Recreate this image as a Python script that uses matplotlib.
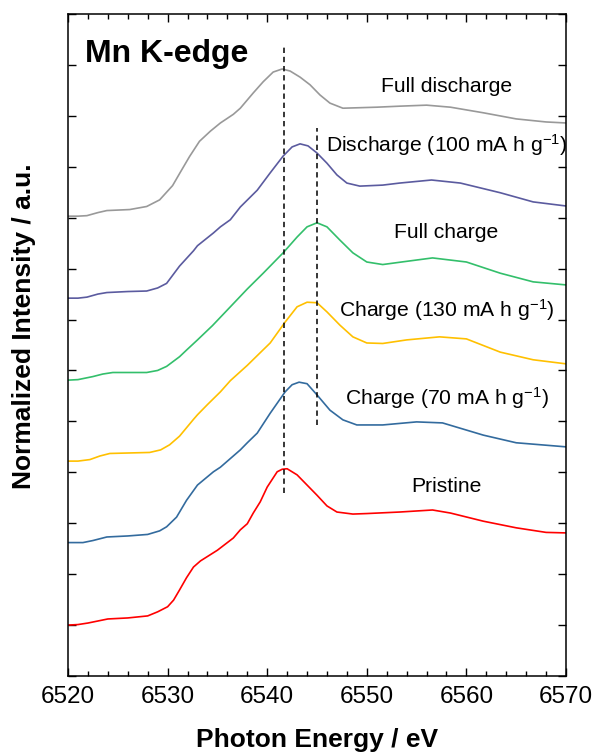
import matplotlib
matplotlib.use("Agg")
import matplotlib.pyplot as plt
from matplotlib.ticker import MultipleLocator

plt.rcParams['font.family'] = ['Liberation Sans', 'DejaVu Sans']
plt.rcParams['mathtext.fontset'] = 'custom'
plt.rcParams['mathtext.rm'] = 'Liberation Sans'
plt.rcParams['mathtext.default'] = 'regular'

# ---- data ----
e_full_dis = [6520, 6521, 6521.9, 6523, 6523.9, 6526.2, 6527.9, 6529.2, 6530.5, 6531.3, 6532.2, 6533.2,
              6534.3, 6535.3, 6536.6, 6537.3, 6538.6, 6539.6, 6540.6, 6541.5, 6542.3, 6543.3, 6544.3,
              6545.3, 6546.3, 6547.6, 6549.3, 6551, 6553.3, 6556, 6558.4, 6561.7, 6565, 6568, 6570]
i_full_dis = [9.03, 9.03, 9.04, 9.10, 9.14, 9.16, 9.22, 9.35, 9.63, 9.90, 10.20, 10.50,
              10.70, 10.86, 11.03, 11.15, 11.45, 11.67, 11.86, 11.92, 11.88, 11.76, 11.61,
              11.41, 11.25, 11.15, 11.16, 11.17, 11.19, 11.21, 11.17, 11.06, 10.94, 10.88, 10.86]

e_dis100 = [6520, 6521, 6521.9, 6523, 6523.9, 6526, 6527.9, 6529, 6529.9, 6531.2, 6532.6, 6533,
            6534.6, 6535.3, 6536.3, 6537.3, 6539, 6540.3, 6541.6, 6542.5, 6543.3, 6544.1, 6545,
            6546, 6547, 6548, 6549.3, 6551.6, 6553.3, 6556.5, 6559.4, 6563.4, 6566.7, 6570]
i_dis100 = [7.42, 7.42, 7.44, 7.50, 7.53, 7.55, 7.56, 7.62, 7.71, 8.05, 8.35, 8.45,
            8.70, 8.82, 8.96, 9.21, 9.54, 9.88, 10.21, 10.39, 10.45, 10.41, 10.27,
            10.07, 9.84, 9.68, 9.62, 9.64, 9.68, 9.74, 9.68, 9.49, 9.31, 9.23]

e_full_chg = [6520, 6521, 6522.5, 6523.5, 6524.5, 6526, 6527.9, 6529, 6529.9, 6531.2, 6531.9, 6533,
              6534.5, 6536.3, 6538, 6539.6, 6541.6, 6543, 6544, 6545, 6546, 6547.3, 6548.6, 6550,
              6551.6, 6553.5, 6556.6, 6560, 6563.4, 6566.7, 6570]
i_full_chg = [5.81, 5.82, 5.88, 5.93, 5.96, 5.96, 5.96, 6.00, 6.08, 6.27, 6.40, 6.60,
              6.88, 7.25, 7.60, 7.91, 8.31, 8.62, 8.82, 8.90, 8.82, 8.56, 8.31, 8.13,
              8.08, 8.13, 8.21, 8.13, 7.91, 7.74, 7.68]

e_chg130 = [6520, 6521, 6522.2, 6523.2, 6524.2, 6526.2, 6528.2, 6529.3, 6530.2, 6531.2, 6532.6, 6533,
            6534, 6535.3, 6536.3, 6538, 6539.2, 6540.3, 6541.8, 6543, 6544, 6545, 6546, 6547.3,
            6548.6, 6550, 6551.6, 6554, 6557.3, 6560, 6563.4, 6566.7, 6570]
i_chg130 = [4.22, 4.22, 4.25, 4.32, 4.37, 4.38, 4.39, 4.44, 4.54, 4.71, 5.04, 5.13,
            5.33, 5.58, 5.80, 6.10, 6.33, 6.54, 6.95, 7.25, 7.34, 7.33, 7.15, 6.89,
            6.66, 6.54, 6.53, 6.60, 6.66, 6.62, 6.36, 6.21, 6.13]

e_chg70 = [6520, 6521.5, 6522.5, 6523.9, 6526, 6528, 6529.2, 6529.9, 6530.9, 6531.9, 6533, 6534.6,
           6535.3, 6537.3, 6538, 6539, 6540.3, 6541.8, 6542.5, 6543.2, 6544, 6545, 6546.3, 6547.6,
           6549, 6551.6, 6555, 6557.6, 6561.7, 6565, 6570]
i_chg70 = [2.62, 2.62, 2.66, 2.73, 2.75, 2.78, 2.85, 2.93, 3.12, 3.45, 3.75, 4.01,
           4.10, 4.44, 4.58, 4.77, 5.16, 5.58, 5.72, 5.77, 5.74, 5.52, 5.22, 5.03,
           4.93, 4.93, 4.99, 4.97, 4.73, 4.58, 4.50]

e_pristine = [6520, 6521, 6522, 6523, 6524, 6526, 6528, 6529, 6530, 6530.6, 6531.2, 6531.9, 6532.6,
              6533.3, 6535, 6536.6, 6537.3, 6538, 6538.6, 6539.3, 6540, 6541, 6541.5, 6542, 6543,
              6544, 6545, 6546, 6547, 6548.6, 6550, 6553.3, 6556.6, 6558.4, 6561.7, 6565, 6568, 6570]
i_pristine = [1.00, 1.01, 1.04, 1.08, 1.12, 1.14, 1.18, 1.26, 1.36, 1.49, 1.69, 1.93, 2.14,
              2.26, 2.47, 2.71, 2.87, 2.99, 3.20, 3.42, 3.71, 4.01, 4.06, 4.07, 3.95,
              3.75, 3.55, 3.34, 3.22, 3.18, 3.19, 3.22, 3.26, 3.20, 3.04, 2.91, 2.82, 2.81]

labels = ["Full discharge", "Discharge (100 mA h g$^{-1}$)", "Full charge",
          "Charge (130 mA h g$^{-1}$)", "Charge (70 mA h g$^{-1}$)", "Pristine"]
label_y = [11.47, 10.29, 8.60, 7.05, 5.32, 3.61]
label_x = 6558
colors = ["#999999", "#5B5B9F", "#33BF6B", "#FFC000", "#336B9E", "#FF0000"]

dash_x = [6541.7, 6545.05]
dash_ymin = [3.59, 4.93]
dash_ymax = [12.35, 10.76]

energies = [e_full_dis, e_dis100, e_full_chg, e_chg130, e_chg70, e_pristine]
intens = [i_full_dis, i_dis100, i_full_chg, i_chg130, i_chg70, i_pristine]

# ---- figure ----
fig = plt.figure(figsize=(5.93, 7.52), dpi=100)
ax = fig.add_axes([68/593, 76/752, (566-68)/593, (676-14)/752])

for e, i, c in zip(energies, intens, colors):
    ax.plot(e, i, color=c, lw=1.2, solid_joinstyle="round")

for x, y0, y1 in zip(dash_x, dash_ymin, dash_ymax):
    ax.plot([x, x], [y0, y1], color="black", lw=1.1, ls=(0, (3.5, 2.5)))

for t, y in zip(labels, label_y):
    ax.text(label_x, y, t, ha="center", va="baseline", fontsize=15.2)

ax.text(6521.7, 12.06, "Mn K-edge", fontsize=23, fontweight="bold", ha="left", va="baseline")

ax.set_xlim(6520, 6570)
ax.set_ylim(0, 13)
ax.xaxis.set_major_locator(MultipleLocator(10))
ax.xaxis.set_minor_locator(MultipleLocator(2))
ax.yaxis.set_major_locator(MultipleLocator(1))
ax.tick_params(axis="both", which="major", direction="in", length=6, width=1.0,
               top=True, right=True, labelsize=17.5, pad=7)
ax.tick_params(axis="both", which="minor", direction="in", length=3.5, width=1.0,
               top=True, right=True)
ax.tick_params(axis="y", which="both", labelleft=False)
for s in ax.spines.values():
    s.set_linewidth(1.1)

fig.text(317/593, 1 - 747/752, "Photon Energy / eV", ha="center", va="baseline",
         fontsize=19, fontweight="bold")
fig.text(24/593, 1 - 326/752, "Normalized Intensity / a.u.", ha="center", va="center",
         rotation=90, fontsize=19, fontweight="bold")

fig.savefig("out.png", dpi=100)
